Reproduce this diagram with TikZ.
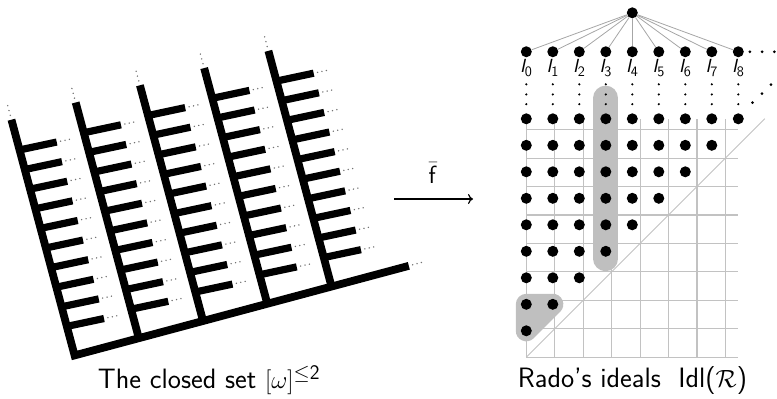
\documentclass[tikz,border=0pt]{standalone}
\usetikzlibrary{arrows.meta,calc}
\definecolor{gridgray}{gray}{0.76}
\definecolor{hlgray}{gray}{0.75}
\definecolor{edgegray}{gray}{0.65}
\definecolor{dotgray}{gray}{0.45}
\begin{document}
\begin{tikzpicture}[x=1pt,y=1pt,
  spine/.style={line width=7.8pt,line join=miter},
  branch/.style={line width=7.2pt},
  gdot/.style={fill=dotgray},
  bdot/.style={circle,fill=black,inner sep=0pt,minimum size=11pt},
  idxlabel/.style={anchor=north,inner sep=0pt,font=\fontsize{19}{19}\selectfont},
  caption/.style={anchor=base,inner sep=0pt,font=\fontsize{28}{32}\selectfont\sffamily},
  gridline/.style={draw=gridgray,line width=1.1pt},
  hl/.style={draw=hlgray,fill=hlgray}]
\useasboundingbox (0,0) rectangle (777,399);

% ---------- left: the closed set ----------
\begin{scope}[shift={(74.6,43.6)},rotate=15]
  \draw[spine] (0,244) -- (0,0) -- (346,0);
  \foreach \i in {1,...,4}
    \draw[spine] (66.5*\i,0) -- (66.5*\i,244);
  \foreach \i in {0,...,4} {
    \foreach \k in {0,...,9} {
      \draw[branch] (66.5*\i,30+20.3*\k) -- ++(-3:38);
      \foreach \d in {42,46.5,51}
        \fill[gdot] (66.5*\i,30+20.3*\k) ++(-3:\d) circle[radius=0.8pt];
    }
    \foreach \d in {248.5,253.5,258.5}
      \fill[gdot] (66.5*\i,\d) circle[radius=0.8pt];
  }
  \foreach \d in {350,354.5,359}
    \fill[gdot] (\d,0) circle[radius=0.8pt];
\end{scope}

% ---------- arrow ----------
\coordinate (aL) at (394,200);
\coordinate (aR) at (473,200);
\draw[-{To[length=5pt,width=10pt]},line width=1.2pt] (aL) -- (aR);
\node[inner sep=0pt,font=\fontsize{26}{30}\selectfont] (flab) at (433,226) {$\bar{\mathsf{f}}$};

% ---------- right: Rado's ideals ----------
\begin{scope}[shift={(526.3,41.7)},x=26.5pt,y=26.5pt]
  \draw[gridline] (0,0) grid (8,9);
  \draw[draw=gridgray,line width=0.9pt] (0,0) -- (9,9);
  \draw[hlgray,line width=25pt,line cap=round] (3,3.72) -- (3,9.78);
  \filldraw[hl,line width=21pt,line join=round] (0,1) -- (0,2) -- (1,2) -- cycle;
  \foreach \r [evaluate=\r as \m using int(\r-1)] in {1,...,9}
    \foreach \i in {0,...,\m}
      \node[bdot] (d\i-\r) at (\i,\r) {};
  \foreach \i in {0,...,8}
    \foreach \r in {9.55,9.92,10.3}
      \fill (\i,\r) circle[radius=1.2pt];
  \node[bdot] (top) at (4,13) {};
  \foreach \i in {0,...,8} {
    \node[bdot] (I\i) at (\i,11.53) {};
    \draw[edgegray,line width=0.8pt] (top) -- (I\i);
    \node[idxlabel] (L\i) at ([yshift=-2pt]I\i.south) {{\sffamily\slshape I}$_{\mathsf{\i}}$};
  }
  \foreach \x in {8.44,8.9,9.36}
    \fill (\x,11.53) circle[radius=1.5pt];
  \foreach \x/\y in {8.54/9.61,8.89/9.95,9.23/10.29}
    \fill (\x,\y) circle[radius=1.5pt];
\end{scope}

% ---------- captions ----------
\node[caption] (capL) at (209,10) {The closed set $[\omega]^{\le\mathsf{2}}$};
\node[caption] (capR) at (632.5,11) {Rado's ideals\ \ Idl(${\mathcal R}$)};
\end{tikzpicture}
\end{document}
